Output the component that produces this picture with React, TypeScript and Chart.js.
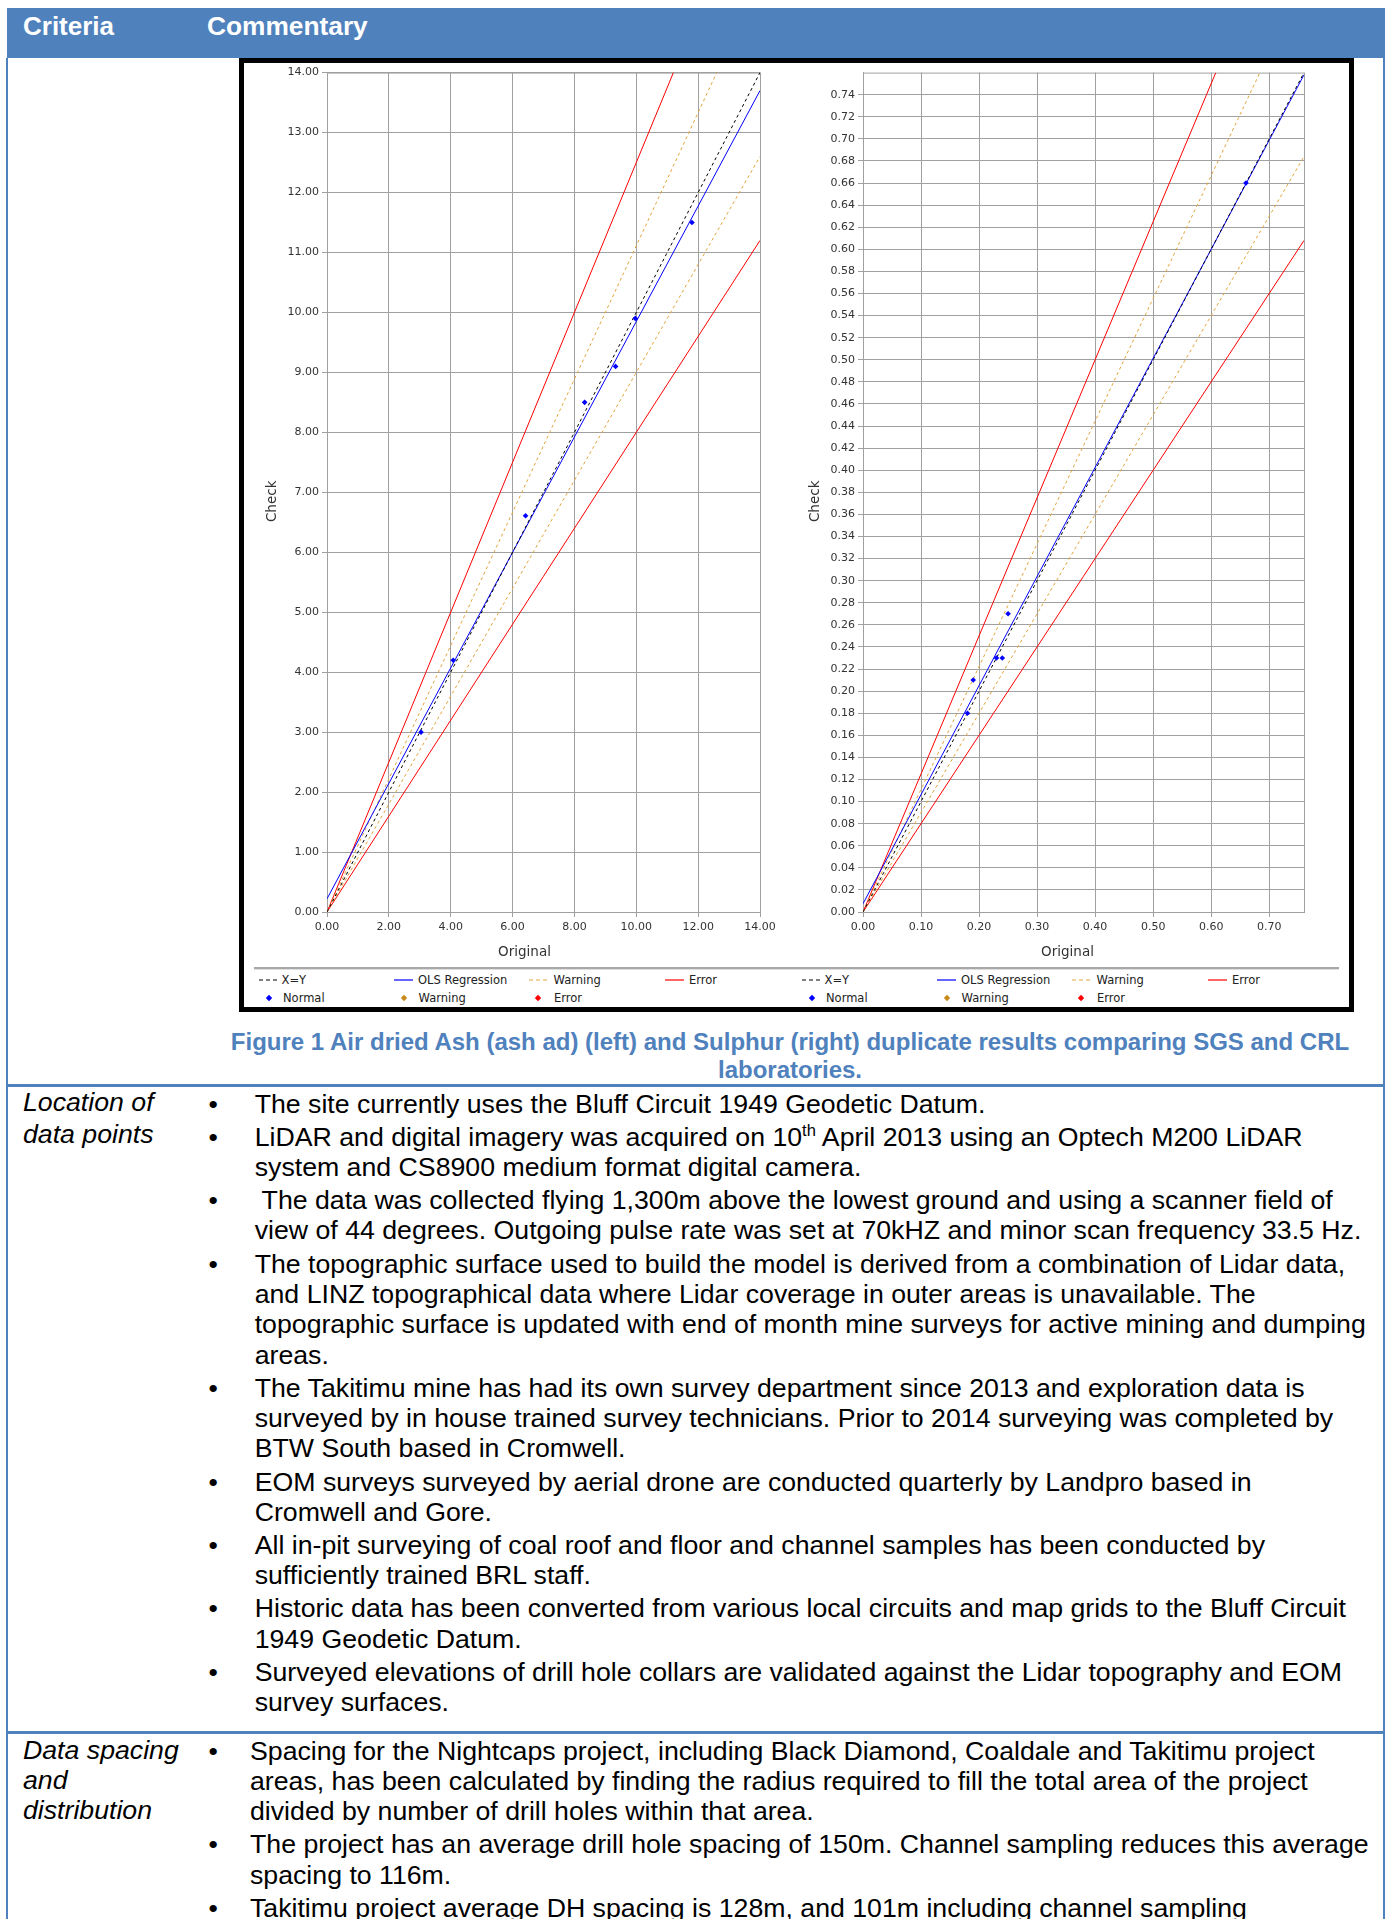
import React, { useEffect, useRef } from 'react';
import { Chart, registerables } from 'chart.js';

Chart.register(...registerables);

type Pt = [number, number];

// ---------- Ash (left chart) ----------
const ashXTicks = [0, 2, 4, 6, 8, 10, 12, 14];
const ashYTicks = [0, 1, 2, 3, 4, 5, 6, 7, 8, 9, 10, 11, 12, 13, 14];
const ashXY: Pt[] = [[0, 0], [14, 14]];
const ashOLS: Pt[] = [[0, 0.22], [14, 13.7]];
const ashWarnHigh: Pt[] = [[0, 0], [12.6, 14]];
const ashWarnLow: Pt[] = [[0, 0], [14, 12.6]];
const ashErrHigh: Pt[] = [[0, 0], [11.2, 14]];
const ashErrLow: Pt[] = [[0, 0], [14, 11.2]];
const ashOriginal = [3.04, 4.08, 6.42, 8.33, 9.33, 9.97, 11.8];
const ashCheck = [3.0, 4.2, 6.61, 8.5, 9.1, 9.9, 11.5];

// ---------- Sulphur (right chart) ----------
const sulXTicks = [0, 0.1, 0.2, 0.3, 0.4, 0.5, 0.6, 0.7];
const sulYTicks = [
  0, 0.02, 0.04, 0.06, 0.08, 0.1, 0.12, 0.14, 0.16, 0.18, 0.2, 0.22, 0.24, 0.26, 0.28, 0.3, 0.32, 0.34,
  0.36, 0.38, 0.4, 0.42, 0.44, 0.46, 0.48, 0.5, 0.52, 0.54, 0.56, 0.58, 0.6, 0.62, 0.64, 0.66, 0.68, 0.7,
  0.72, 0.74,
];
const sulXY: Pt[] = [[0, 0], [0.76, 0.76]];
const sulOLS: Pt[] = [[0, 0.0075], [0.76, 0.758]];
const sulWarnHigh: Pt[] = [[0, 0], [0.684, 0.76]];
const sulWarnLow: Pt[] = [[0, 0], [0.76, 0.684]];
const sulErrHigh: Pt[] = [[0, 0], [0.608, 0.76]];
const sulErrLow: Pt[] = [[0, 0], [0.76, 0.608]];
const sulOriginal = [0.18, 0.19, 0.23, 0.24, 0.25, 0.66];
const sulCheck = [0.18, 0.21, 0.23, 0.23, 0.27, 0.66];

// ---------- Legend labels ----------
const legendLineLabels = ['X=Y', 'OLS Regression', 'Warning', 'Error'];
const legendPointLabels = ['Normal', 'Warning', 'Error'];

// ---------- Table text ----------
const locationCriteria = ['Location of', 'data points'];
const locationBullets: string[][] = [
  ['The site currently uses the Bluff Circuit 1949 Geodetic Datum.'],
  [
    'LiDAR and digital imagery was acquired on 10{th} April 2013 using an Optech M200 LiDAR',
    'system and CS8900 medium format digital camera.',
  ],
  [
    ' The data was collected flying 1,300m above the lowest ground and using a scanner field of',
    'view of 44 degrees. Outgoing pulse rate was set at 70kHZ and minor scan frequency 33.5 Hz.',
  ],
  [
    'The topographic surface used to build the model is derived from a combination of Lidar data,',
    'and LINZ topographical data where Lidar coverage in outer areas is unavailable. The',
    'topographic surface is updated with end of month mine surveys for active mining and dumping',
    'areas.',
  ],
  [
    'The Takitimu mine has had its own survey department since 2013 and exploration data is',
    'surveyed by in house trained survey technicians. Prior to 2014 surveying was completed by',
    'BTW South based in Cromwell.',
  ],
  ['EOM surveys surveyed by aerial drone are conducted quarterly by Landpro based in', 'Cromwell and Gore.'],
  ['All in-pit surveying of coal roof and floor and channel samples has been conducted by', 'sufficiently trained BRL staff.'],
  ['Historic data has been converted from various local circuits and map grids to the Bluff Circuit', '1949 Geodetic Datum.'],
  ['Surveyed elevations of drill hole collars are validated against the Lidar topography and EOM', 'survey surfaces.'],
];
const spacingCriteria = ['Data spacing', 'and', 'distribution'];
const spacingBullets: string[][] = [
  [
    'Spacing for the Nightcaps project, including Black Diamond, Coaldale and Takitimu project',
    'areas, has been calculated by finding the radius required to fill the total area of the project',
    'divided by number of drill holes within that area.',
  ],
  ['The project has an average drill hole spacing of 150m. Channel sampling reduces this average', 'spacing to 116m.'],
  ['Takitimu project average DH spacing is 128m, and 101m including channel sampling'],
];

const BLUE = '#4f81bd';
const BODY_FONT = '"Liberation Sans", Arial, sans-serif';
const CHART_FONT = '"DejaVu Sans", Verdana, sans-serif';
const GRID = '#a0a0a0';
const WARN_LINE = '#e3a43a';
const WARN_PT = '#c98a1c';

interface Spec {
  xTicks: number[];
  yTicks: number[];
  max: number;
  xy: Pt[];
  ols: Pt[];
  warnHigh: Pt[];
  warnLow: Pt[];
  errHigh: Pt[];
  errLow: Pt[];
  original: number[];
  check: number[];
}

interface Box {
  left: number;
  top: number;
  width: number;
  height: number;
  yAxisWidth: number;
  padRight: number;
  padTop: number;
  xAxisHeight: number;
  xTitleShift: number;
  yTitleGap: number;
}

const framePlugin = {
  id: 'frameTitles',
  beforeDatasetsDraw(chart: any) {
    const { ctx, chartArea } = chart;
    ctx.save();
    ctx.strokeStyle = GRID;
    ctx.lineWidth = 1;
    ctx.strokeRect(chartArea.left + 0.5, chartArea.top + 0.5, chartArea.right - chartArea.left, chartArea.bottom - chartArea.top);
    ctx.restore();
  },
  afterDraw(chart: any, _args: any, opts: any) {
    const { ctx, chartArea } = chart;
    ctx.save();
    ctx.font = `13.5px ${CHART_FONT}`;
    ctx.fillStyle = '#333';
    ctx.textAlign = 'center';
    ctx.textBaseline = 'middle';
    ctx.fillText('Original', (chartArea.left + chartArea.right) / 2 + opts.xShift, chartArea.bottom + 40);
    ctx.translate(chartArea.left - opts.yGap, (chartArea.top + chartArea.bottom) / 2 + 9);
    ctx.rotate(-Math.PI / 2);
    ctx.fillText('Check', 0, 0);
    ctx.restore();
  },
};

function toXY(pts: Pt[]) {
  return pts.map(([x, y]) => ({ x, y }));
}

function lineSet(pts: Pt[], color: string, dash: number[]) {
  return {
    data: toXY(pts),
    showLine: true,
    borderColor: color,
    backgroundColor: color,
    borderWidth: 1,
    borderDash: dash,
    pointRadius: 0,
    pointHoverRadius: 0,
    fill: false,
    tension: 0,
  };
}

function DuplicateChart({ spec, box }: { spec: Spec; box: Box }) {
  const ref = useRef<HTMLCanvasElement | null>(null);
  useEffect(() => {
    if (!ref.current) return;
    const tickFont = { family: CHART_FONT, size: 11 };
    const fmt = (v: any) => Number(v).toFixed(2);
    const chart = new Chart(ref.current, {
      type: 'scatter',
      data: {
        datasets: [
          {
            data: spec.original.map((x, i) => ({ x, y: spec.check[i] })),
            pointStyle: 'rectRot',
            pointRadius: 2.8,
            pointHoverRadius: 2.8,
            backgroundColor: '#0000ff',
            borderColor: '#0000ff',
            borderWidth: 0,
            showLine: false,
          },
          lineSet(spec.xy, '#000000', [3, 3]),
          lineSet(spec.ols, '#0000ff', []),
          lineSet(spec.warnHigh, WARN_LINE, [3, 3]),
          lineSet(spec.warnLow, WARN_LINE, [3, 3]),
          lineSet(spec.errHigh, '#ff0000', []),
          lineSet(spec.errLow, '#ff0000', []),
        ] as any,
      },
      options: {
        responsive: false,
        maintainAspectRatio: false,
        animation: false,
        layout: { padding: { left: 0, right: box.padRight, top: box.padTop, bottom: 0 } },
        plugins: {
          legend: { display: false },
          tooltip: { enabled: false },
          frameTitles: { xShift: box.xTitleShift, yGap: box.yTitleGap },
        } as any,
        scales: {
          x: {
            type: 'linear',
            min: 0,
            max: spec.max,
            afterBuildTicks: (s: any) => {
              s.ticks = spec.xTicks.map((v) => ({ value: v }));
            },
            afterFit: (s: any) => {
              s.height = box.xAxisHeight;
            },
            ticks: { font: tickFont, color: '#333', padding: 4, autoSkip: false, maxRotation: 0, minRotation: 0, callback: fmt },
            grid: { color: GRID, lineWidth: 1, tickLength: 5, tickColor: GRID },
            border: { display: true, color: GRID, width: 1 },
            title: { display: false },
          },
          y: {
            type: 'linear',
            min: 0,
            max: spec.max,
            afterBuildTicks: (s: any) => {
              s.ticks = spec.yTicks.map((v) => ({ value: v }));
            },
            afterFit: (s: any) => {
              s.width = box.yAxisWidth;
            },
            ticks: { font: tickFont, color: '#333', padding: 3, autoSkip: false, callback: fmt },
            grid: { color: GRID, lineWidth: 1, tickLength: 5, tickColor: GRID },
            border: { display: true, color: GRID, width: 1 },
            title: { display: false },
          },
        } as any,
      },
      plugins: [framePlugin as any],
    });
    return () => chart.destroy();
  }, []);
  return (
    <canvas
      ref={ref}
      width={box.width}
      height={box.height}
      style={{ position: 'absolute', left: box.left, top: box.top, width: box.width, height: box.height }}
    />
  );
}

function LineSample({ color, dash }: { color: string; dash: boolean }) {
  return (
    <svg width={20} height={4} style={{ position: 'absolute', left: 0, top: -2 }}>
      <line x1={0} y1={2} x2={19} y2={2} stroke={color} strokeWidth={1.2} strokeDasharray={dash ? '4 3' : undefined} />
    </svg>
  );
}

function Diamond({ color }: { color: string }) {
  return (
    <svg width={8} height={8} style={{ position: 'absolute', left: -4, top: -4 }}>
      <polygon points="4,0.8 7.2,4 4,7.2 0.8,4" fill={color} />
    </svg>
  );
}

function Legend({ x0 }: { x0: number }) {
  const row1Y = 980;
  const row2Y = 998;
  const sampleX = [4.6, 140, 275, 411];
  const textX1 = [27.5, 164, 299.6, 435];
  const markerX = [15, 149.6, 284.3];
  const textX2 = [29, 164.6, 300];
  const lineColors = ['#000000', '#0000ff', WARN_LINE, '#ff0000'];
  const lineDash = [true, false, true, false];
  const pointColors = ['#0000ff', WARN_PT, '#ff0000'];
  const textStyle: React.CSSProperties = {
    position: 'absolute',
    font: `11.5px ${CHART_FONT}`,
    color: '#222',
    lineHeight: '14px',
    whiteSpace: 'nowrap',
  };
  return (
    <>
      {legendLineLabels.map((lab, i) => (
        <React.Fragment key={'l' + i}>
          <div style={{ position: 'absolute', left: x0 + sampleX[i], top: row1Y }}>
            <LineSample color={lineColors[i]} dash={lineDash[i]} />
          </div>
          <div style={{ ...textStyle, left: x0 + textX1[i], top: row1Y - 7 }}>{lab}</div>
        </React.Fragment>
      ))}
      {legendPointLabels.map((lab, i) => (
        <React.Fragment key={'p' + i}>
          <div style={{ position: 'absolute', left: x0 + markerX[i], top: row2Y }}>
            <Diamond color={pointColors[i]} />
          </div>
          <div style={{ ...textStyle, left: x0 + textX2[i], top: row2Y - 7 }}>{lab}</div>
        </React.Fragment>
      ))}
    </>
  );
}

function renderLine(s: string) {
  const parts = s.split('{th}');
  if (parts.length === 1) return s;
  return (
    <>
      {parts[0]}
      <span style={{ fontSize: '0.62em', position: 'relative', top: '-0.6em', lineHeight: 0 }}>th</span>
      {parts[1]}
    </>
  );
}

function Bullets({ items, top, textLeft }: { items: string[][]; top: number; textLeft: number }) {
  const bulletLeft = 208.5;
  return (
    <div
      style={{
        position: 'absolute',
        left: bulletLeft,
        top,
        font: `26.7px ${BODY_FONT}`,
        lineHeight: '30.3px',
        color: '#000',
        whiteSpace: 'pre',
      }}
    >
      {items.map((lines, i) => (
        <div key={i} style={{ position: 'relative', paddingLeft: textLeft - bulletLeft, marginBottom: 2.9 }}>
          <span style={{ position: 'absolute', left: 0, top: 0 }}>•</span>
          {lines.map((ln, j) => (
            <div key={j}>{renderLine(ln)}</div>
          ))}
        </div>
      ))}
    </div>
  );
}

export default function App() {
  const ashSpec: Spec = {
    xTicks: ashXTicks,
    yTicks: ashYTicks,
    max: 14,
    xy: ashXY,
    ols: ashOLS,
    warnHigh: ashWarnHigh,
    warnLow: ashWarnLow,
    errHigh: ashErrHigh,
    errLow: ashErrLow,
    original: ashOriginal,
    check: ashCheck,
  };
  const sulSpec: Spec = {
    xTicks: sulXTicks,
    yTicks: sulYTicks,
    max: 0.76,
    xy: sulXY,
    ols: sulOLS,
    warnHigh: sulWarnHigh,
    warnLow: sulWarnLow,
    errHigh: sulErrHigh,
    errLow: sulErrLow,
    original: sulOriginal,
    check: sulCheck,
  };
  const ashBox: Box = {
    left: 244,
    top: 63,
    width: 551,
    height: 897,
    yAxisWidth: 83,
    padRight: 35,
    padTop: 9,
    xAxisHeight: 48,
    xTitleShift: -19,
    yTitleGap: 55,
  };
  const sulBox: Box = {
    left: 795,
    top: 63,
    width: 554,
    height: 897,
    yAxisWidth: 68,
    padRight: 45,
    padTop: 9,
    xAxisHeight: 48,
    xTitleShift: -16,
    yTitleGap: 48,
  };

  return (
    <div
      style={{
        position: 'absolute',
        left: 0,
        top: 0,
        width: 1391,
        height: 1919,
        overflow: 'hidden',
        background: '#ffffff',
        fontFamily: BODY_FONT,
      }}
    >
      {/* header */}
      <div style={{ position: 'absolute', left: 7, top: 8, width: 1378, height: 50, background: BLUE }} />
      <div style={{ position: 'absolute', left: 23, top: 11, font: `bold 26px ${BODY_FONT}`, lineHeight: '30px', color: '#fff' }}>
        Criteria
      </div>
      <div style={{ position: 'absolute', left: 207, top: 11, font: `bold 26.3px ${BODY_FONT}`, lineHeight: '30px', color: '#fff' }}>
        Commentary
      </div>

      {/* table borders */}
      <div style={{ position: 'absolute', left: 6, top: 58, width: 2, height: 1861, background: BLUE }} />
      <div style={{ position: 'absolute', left: 1383, top: 58, width: 2, height: 1861, background: BLUE }} />
      <div style={{ position: 'absolute', left: 6, top: 1084, width: 1379, height: 3, background: BLUE }} />
      <div style={{ position: 'absolute', left: 6, top: 1731, width: 1379, height: 3, background: BLUE }} />

      {/* figure box */}
      <div
        style={{
          position: 'absolute',
          left: 239,
          top: 58,
          width: 1115,
          height: 954,
          border: '5px solid #000',
          boxSizing: 'border-box',
          background: '#fff',
        }}
      />
      <DuplicateChart spec={ashSpec} box={ashBox} />
      <DuplicateChart spec={sulSpec} box={sulBox} />
      <div style={{ position: 'absolute', left: 254, top: 967, width: 1085, height: 2, background: '#a8a8a8' }} />
      <div style={{ position: 'absolute', left: 254, top: 969, width: 1085, height: 1, background: '#dedede' }} />
      <Legend x0={254} />
      <Legend x0={797} />

      {/* caption */}
      <div
        style={{
          position: 'absolute',
          left: 200,
          top: 1028,
          width: 1180,
          textAlign: 'center',
          font: `bold 24px ${BODY_FONT}`,
          lineHeight: '28px',
          color: BLUE,
          whiteSpace: 'nowrap',
        }}
      >
        <div>Figure 1 Air dried Ash (ash ad) (left) and Sulphur (right) duplicate results comparing SGS and CRL</div>
        <div>laboratories.</div>
      </div>

      {/* row: location of data points */}
      <div
        style={{
          position: 'absolute',
          left: 23,
          top: 1087,
          font: `italic 26.7px ${BODY_FONT}`,
          lineHeight: '31.5px',
          color: '#000',
          whiteSpace: 'nowrap',
        }}
      >
        {locationCriteria.map((t, i) => (
          <div key={i}>{t}</div>
        ))}
      </div>
      <Bullets items={locationBullets} top={1088.5} textLeft={254.7} />

      {/* row: data spacing */}
      <div
        style={{
          position: 'absolute',
          left: 23,
          top: 1735,
          font: `italic 26.7px ${BODY_FONT}`,
          lineHeight: '30px',
          color: '#000',
          whiteSpace: 'nowrap',
        }}
      >
        {spacingCriteria.map((t, i) => (
          <div key={i}>{t}</div>
        ))}
      </div>
      <Bullets items={spacingBullets} top={1735.5} textLeft={250} />
    </div>
  );
}
